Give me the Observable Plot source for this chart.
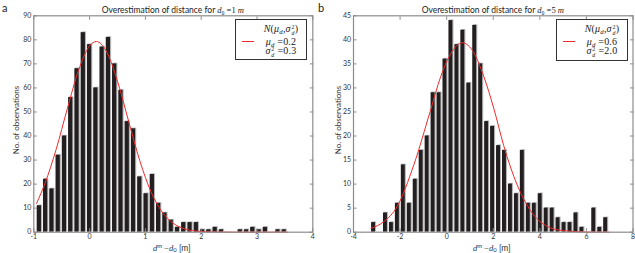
<!DOCTYPE html>
<html><head><meta charset="utf-8">
<script src="https://cdn.jsdelivr.net/npm/d3@7"></script>
<script src="https://cdn.jsdelivr.net/npm/@observablehq/plot@0.6"></script>
<style>
body{margin:0;background:#fff;}
#wrap{position:relative;width:635px;height:253px;overflow:hidden;font-family:Lato,"Open Sans",sans-serif;color:#222;background:#fff}
#wrap svg{position:absolute;top:0}
.abs{position:absolute;white-space:nowrap;line-height:1}
.ctr{transform:translate(-50%,-50%)}
.m{font-family:"Liberation Serif","DejaVu Serif",serif}
.mi{font-family:"Liberation Serif","DejaVu Serif",serif;font-style:italic}
.sb{font-size:0.68em;position:relative;top:0.3em}
.sp{font-size:0.7em;position:relative;top:-0.45em}
.ss{display:inline-block;font-size:0.58em;line-height:0.92;vertical-align:-0.55em;text-align:left;margin-left:0.12em;margin-right:0.05em;font-family:"Liberation Serif",serif}
.ylab{transform:translate(-50%,-50%) rotate(-90deg);font-size:8px;color:#333}
.leg{position:absolute;border:1px solid #333;background:#fff;box-sizing:border-box}
.legline{position:absolute;height:0;border-top:1.2px solid #ef2b2b}
.lt{position:absolute;transform:translate(-50%,-50%);white-space:nowrap;font-size:10px;line-height:1;color:#222;letter-spacing:0.2px}
</style></head><body><div id="wrap"></div>
<script>
// ---- data ----
const countsA = [11,22,18,32,40,56,68,83,78,60,77,81,70,59,46,43,23,16,24,12,8,5,2,4,4,4,1,1,2,1,0,0,1,1,2,1,2,0,1,1];
const binRangeA = [-0.95, 3.55];
const fitXA = [-0.95,-0.8,-0.6,-0.4,-0.2,0,0.12,0.3,0.5,0.7,0.9,1.1,1.3,1.5,1.7,1.9,2.2,2.6,3.55];
const fitYA = [12,20.3,34.4,51.3,67.2,77.5,79.3,75.3,62.8,46.1,29.7,16.8,8.4,3.7,1.4,0.5,0.1,0,0];
const xTicksA = [-1,0,1,2,3,4];
const yTicksA = [0,10,20,30,40,50,60,70,80,90];

const countsB = [2,0,4,2,6,14,6,11,17,20,29,29,36,44,39,42,31,43,35,23,22,18,17,10,8,17,6,6,8,5,5,3,2,2,4,1,0,5,1,3];
const binRangeB = [-3.25, 6.97];
const fitXB = [-3.25,-2.7,-2.12,-1.41,-0.69,-0.26,0.16,0.67,1.17,1.6,2.02,2.45,3.03,3.6,4.32,5.03,6.0,6.97];
const fitYB = [0.8,2.2,5.4,14,25.4,32.3,37,39.4,37.3,32.3,25.8,18,9.8,4.5,1.2,0.3,0.03,0];
const xTicksB = [-4,-2,0,2,4,6,8];
const yTicksB = [0,5,10,15,20,25,30,35,40,45];

const panelLetters = ["a","b"];
const d0Values = ["1","5"];
const muValues = ["0.2","0.6"];
const varValues = ["0.3","2.0"];
const yLabel = "No. of observations";

// ---- chart ----
function hist(counts, range, fx, fy, o) {
  const w = (range[1]-range[0])/counts.length;
  const bins = counts.map((c,i)=>({x1: range[0]+i*w, x2: range[0]+(i+1)*w, c}));
  const fit = fx.map((x,i)=>({x, y: fy[i]}));
  const ax = {stroke:"#8c8c8c", fill:"#333", fontSize:7, label:null};
  return Plot.plot({
    width: o.width, height: 253,
    marginLeft: o.ml, marginRight: o.mr, marginTop: 15.3, marginBottom: 21.3,
    x: {domain: o.xd}, y: {domain: o.yd},
    style: {fontFamily:"Lato, sans-serif", fontSize:"7px", background:"transparent", overflow:"visible"},
    marks: [
      Plot.rectY(bins, {x1:"x1", x2:"x2", y:"c", fill:"#b5b5b5", insetLeft:1.4, insetRight:0.3, dy:-0.7}),
      Plot.rectY(bins, {x1:"x1", x2:"x2", y:"c", fill:"#231f20", insetLeft:0.6, insetRight:1.4}),
      Plot.line(fit, {x:"x", y:"y", stroke:"#ef2b2b", strokeWidth:1, curve:"monotone-x"}),
      Plot.frame({stroke:"#8c8c8c", strokeWidth:1.2}),
      Plot.axisX({...ax, anchor:"bottom", ticks:o.xt, tickSize:-3.5, tickPadding:5.5, tickFormat:d=>String(d)}),
      Plot.axisX({...ax, anchor:"top", ticks:o.xt, tickSize:-3.5, tickFormat:()=>""}),
      Plot.axisY({...ax, anchor:"left", ticks:o.yt, tickSize:-3.5, tickPadding:6, tickFormat:d=>String(d)}),
      Plot.axisY({...ax, anchor:"right", ticks:o.yt, tickSize:-3.5, tickFormat:()=>""})
    ]
  });
}

const wrap = document.getElementById("wrap");
const svgA = hist(countsA, binRangeA, fitXA, fitYA, {width:318, ml:33.3, mr:5.7, xd:[-1,4], yd:[0,90], xt:xTicksA, yt:yTicksA});
svgA.style.left = "0px";
wrap.appendChild(svgA);
const svgB = hist(countsB, binRangeB, fitXB, fitYB, {width:317, ml:35, mr:2.5, xd:[-4,8], yd:[0,45], xt:xTicksB, yt:yTicksB});
svgB.style.left = "318px";
wrap.appendChild(svgB);

// ---- text overlays ----
const ss = (top, bot) => `<span class="ss">${top}<br><i>${bot}</i></span>`;
const panels = [
  {cx:172.8, ylx:15.5, letter:2, leg:[235,19,72,41], lc:281},
  {cx:492.8, ylx:337.5, letter:318, leg:[556,19,72,42], lc:602}
];
panels.forEach((p,i)=>{
  let h = "";
  h += `<div class="abs" style="left:${p.letter}px;top:2px;font-size:11px;color:#222">${panelLetters[i]}</div>`;
  h += `<div class="abs ctr" style="left:${p.cx}px;top:10px;font-size:8.5px;color:#222">Overestimation of distance for <span class="mi">d</span><span class="sb m">0</span> <span class="m">=${d0Values[i]}</span> <span class="mi">m</span></div>`;
  h += `<div class="abs ylab" style="left:${p.ylx}px;top:120px">${yLabel}</div>`;
  h += `<div class="abs ctr" style="left:${p.cx-1}px;top:247.5px;font-size:8.5px;color:#333"><span class="mi">d</span><span class="sp">m</span> <span class="m">&minus;</span><span class="mi">d</span><span class="sb">0</span> [m]</div>`;
  const [lx,ly,lw,lh] = p.leg;
  h += `<div class="leg" style="left:${lx}px;top:${ly}px;width:${lw}px;height:${lh}px"></div>`;
  h += `<div class="legline" style="left:${lx+7}px;top:${ly+22}px;width:12px"></div>`;
  h += `<div class="lt" style="left:${p.lc}px;top:${ly+10.5}px"><span class="mi">N</span><span class="m">(</span><span class="mi">μ</span><span class="sb mi">d</span><span class="m">,</span><span class="mi">σ</span>${ss("2","d")}<span class="m">)</span></div>`;
  h += `<div class="lt" style="left:${p.lc}px;top:${ly+21.5}px"><span class="mi">μ</span><span class="sb mi">d</span> <span class="m">=${muValues[i]}</span></div>`;
  h += `<div class="lt" style="left:${p.lc}px;top:${ly+32.5}px"><span class="mi">σ</span>${ss("2","d")} <span class="m">=${varValues[i]}</span></div>`;
  wrap.insertAdjacentHTML("beforeend", h);
});
</script>
</body></html>
